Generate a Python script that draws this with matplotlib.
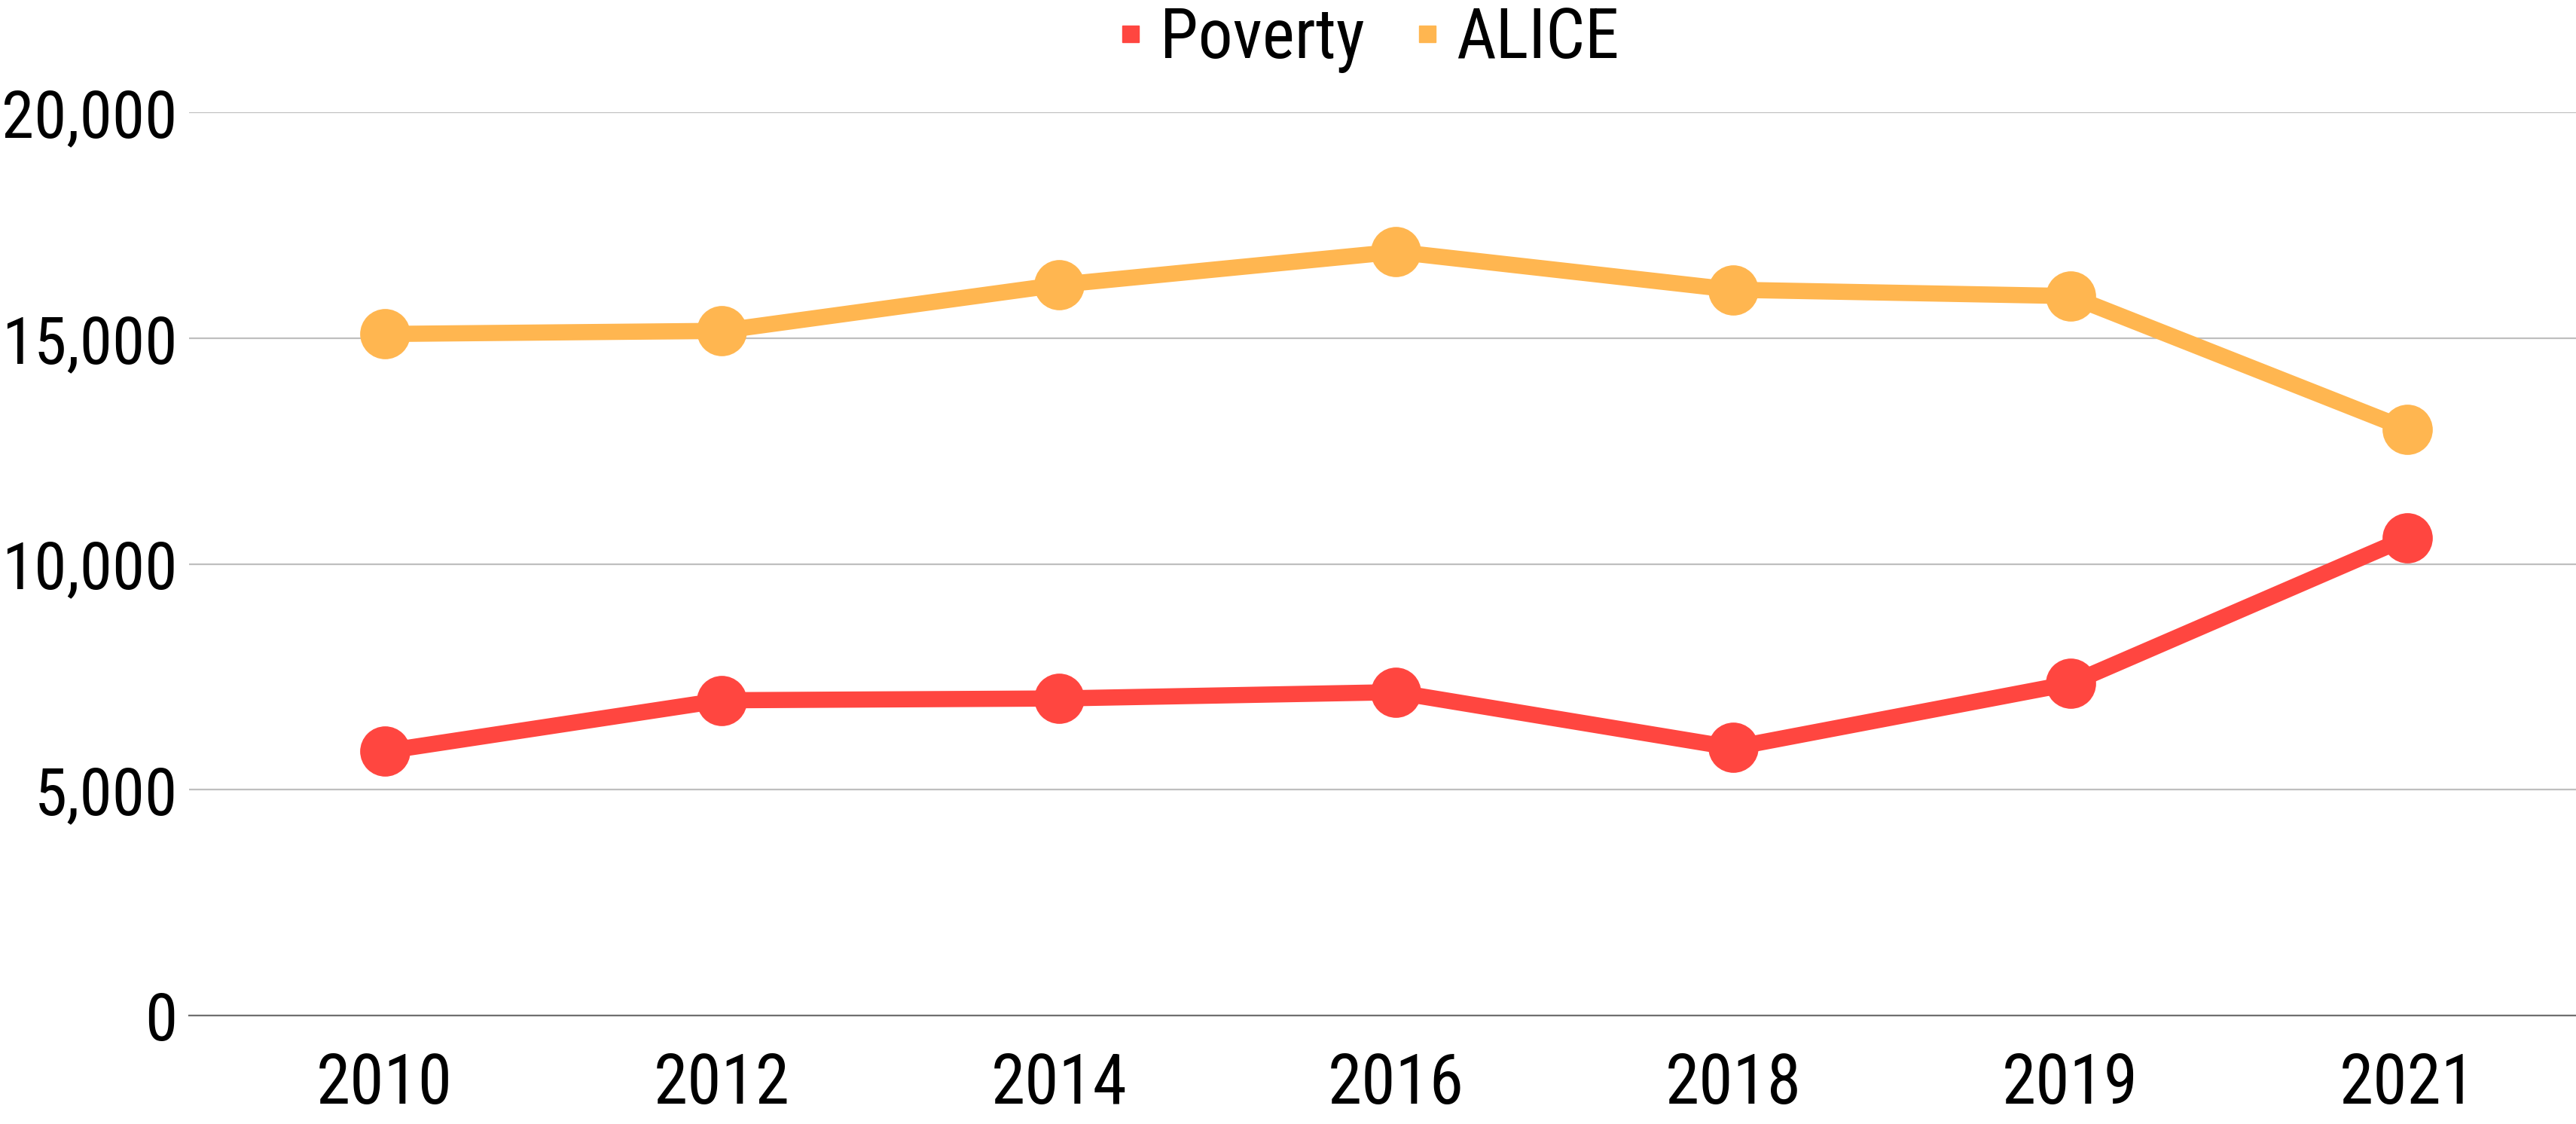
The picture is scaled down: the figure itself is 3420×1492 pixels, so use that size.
import matplotlib
matplotlib.use('Agg')
import matplotlib.pyplot as plt
from matplotlib.ticker import FuncFormatter

years = ['2010', '2012', '2014', '2016', '2018', '2019', '2021']
poverty = [5850, 6980, 7020, 7160, 5930, 7350, 10580]
alice = [15090, 15160, 16180, 16910, 16070, 15930, 12980]

plt.rcParams['font.family'] = ['Roboto Condensed', 'Roboto', 'DejaVu Sans']

fig = plt.figure(figsize=(34.2, 14.92), dpi=100)
ax = fig.add_axes([251/3420, 1 - 1348/1492, 1 - 251/3420, (1348 - 149)/1492])

x = list(range(len(years)))
ax.plot(x, poverty, color='#FF4640', lw=15.5, marker='o', ms=47, label='Poverty')
ax.plot(x, alice, color='#FFB650', lw=15.5, marker='o', ms=47, label='ALICE')

ax.set_ylim(0, 20000)
ax.set_xlim(-0.58, 6.5)
ax.set_yticks([0, 5000, 10000, 15000, 20000])
ax.yaxis.set_major_formatter(FuncFormatter(lambda v, p: f'{int(v):,}'))
ax.set_xticks(x)
ax.set_xticklabels(years)
ax.grid(axis='y', color='#BFBFBF', lw=1.6)
ax.set_axisbelow(True)
for s in ['top', 'right', 'left']:
    ax.spines[s].set_visible(False)
ax.spines['bottom'].set_color('#6F6F6F')
ax.spines['bottom'].set_linewidth(1.6)
ax.tick_params(axis='both', length=0)
ax.tick_params(axis='y', pad=11, labelsize=63)
ax.tick_params(axis='x', pad=34, labelsize=66)

# legend: small squares, left edge placed by hand
h = [plt.Line2D([], [], color=c, marker='s', ls='', ms=16) for c in ['#FF4640', '#FFB650']]
fig.legend(h, ['Poverty', 'ALICE'], loc='upper left', bbox_to_anchor=(1432/3420, 1.026),
           ncol=2, frameon=False, fontsize=66, borderpad=0, handlelength=0.5,
           handletextpad=0.175, columnspacing=0.655)

fig.savefig('out.png', dpi=100)
